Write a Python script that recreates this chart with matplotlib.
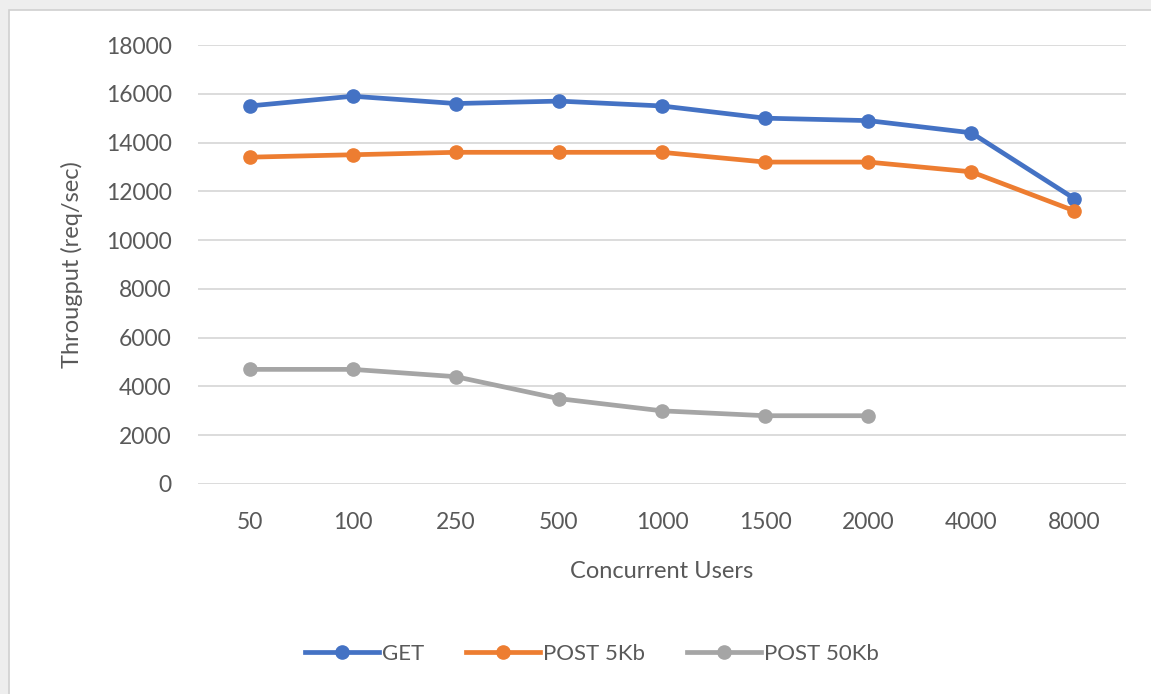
import matplotlib.pyplot as plt
from matplotlib.patches import Rectangle

users = ['50', '100', '250', '500', '1000', '1500', '2000', '4000', '8000']
get_vals = [15500, 15900, 15600, 15700, 15500, 15000, 14900, 14400, 11700]
post5_vals = [13400, 13500, 13600, 13600, 13600, 13200, 13200, 12800, 11200]
post50_vals = [4700, 4700, 4400, 3500, 3000, 2800, 2800]

grey_txt = '#595959'
plt.rcParams['font.family'] = ['Lato', 'DejaVu Sans']

fig = plt.figure(figsize=(11.51, 6.94), dpi=100, facecolor='#eeeeee')
# white chart frame (behind the axes)
fig.patches.append(Rectangle((9 / 1151, -0.02), 1.05, 1 - 10 / 694 + 0.02,
                             transform=fig.transFigure, facecolor='white',
                             edgecolor='#d0d0d0', linewidth=1.2, zorder=-1))

ax = fig.add_axes([198 / 1151, 1 - 484 / 694, 928 / 1151, 439 / 694])
ax.set_facecolor('white')

x = list(range(len(users)))
ax.plot(x, get_vals, color='#4472C4', lw=3.4, marker='o', ms=9.5, label='GET', zorder=3)
ax.plot(x, post5_vals, color='#ED7D31', lw=3.4, marker='o', ms=9.5, label='POST 5Kb', zorder=3)
ax.plot(x[:len(post50_vals)], post50_vals, color='#A5A5A5', lw=3.4, marker='o', ms=9.5,
        label='POST 50Kb', zorder=3)

ax.set_xlim(-0.5, len(users) - 0.5)
ax.set_ylim(0, 18000)
ax.set_yticks(range(0, 18001, 2000))
ax.set_xticks(x)
ax.set_xticklabels(users)
ax.grid(axis='y', color='#d9d9d9', lw=1.3)
ax.set_axisbelow(True)
for s in ax.spines.values():
    s.set_visible(False)
ax.tick_params(length=0, labelsize=16.5, colors=grey_txt, pad=19)
ax.tick_params(axis='x', pad=20)

ax.set_ylabel('Througput (req/sec)', fontsize=17, color=grey_txt, labelpad=16)
ax.set_xlabel('Concurrent Users', fontsize=17, color=grey_txt, labelpad=20)

fig.legend(*ax.get_legend_handles_labels(), loc='center', bbox_to_anchor=(592 / 1151, 1 - 654 / 694),
           ncol=3, frameon=False, fontsize=16, labelcolor=grey_txt, handlelength=3.3,
           columnspacing=1.9, handletextpad=0.15)

fig.savefig('out.png', dpi=100, facecolor=fig.get_facecolor())
